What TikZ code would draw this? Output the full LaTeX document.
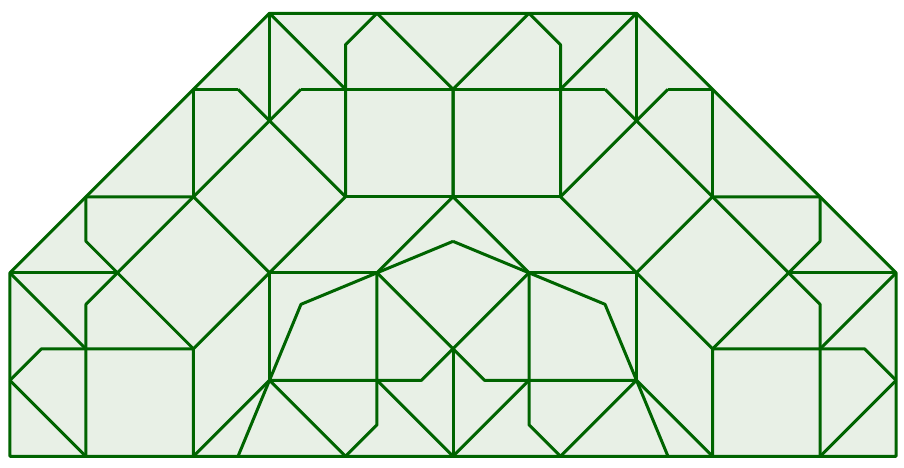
\documentclass[tikz,border=0pt]{standalone}
\definecolor{linegreen}{RGB}{0,100,0}
\definecolor{fillgreen}{RGB}{232,240,230}
\begin{document}
\begin{tikzpicture}[x=1pt,y=-1pt]
\pgfmathsetmacro\s{107.5}
\pgfmathsetmacro\d{\s/sqrt(2)}
\pgfmathsetmacro\e{\s-\d}
% x offsets from the centre line
\pgfmathsetmacro\xA{2*\s+3*\d}
\pgfmathsetmacro\xB{\s+4*\d}
\pgfmathsetmacro\xC{2*\s+2*\d}
\pgfmathsetmacro\xD{\s+3*\d}
\pgfmathsetmacro\xE{\s+2*\d}
\pgfmathsetmacro\xF{2*\s}
\pgfmathsetmacro\xG{\s+\d}
\pgfmathsetmacro\xH{2*\d}
\pgfmathsetmacro\xI{\s}
\pgfmathsetmacro\xJ{\d}
\pgfmathsetmacro\xK{\e}
% y offsets from the top edge (downwards)
\pgfmathsetmacro\yA{0}
\pgfmathsetmacro\yB{\e}
\pgfmathsetmacro\yC{\d}
\pgfmathsetmacro\yD{\s}
\pgfmathsetmacro\yE{\d+\s}
\pgfmathsetmacro\yF{3*\d}
\pgfmathsetmacro\yG{2*\d+\s}
\pgfmathsetmacro\yH{\d+2*\s}
\pgfmathsetmacro\yI{3*\d+\s}
\pgfmathsetmacro\yJ{2*\d+2*\s}
\pgfmathsetmacro\yK{3*\d+2*\s-\e}
\pgfmathsetmacro\yL{3*\d+2*\s}
\tikzset{pat/.style={draw=linegreen, line width=3pt, line join=round}}
\useasboundingbox (0,0) rectangle (904,467);
\begin{scope}[shift={(453,13.3)}]
  \fill[fillgreen] (-\xG,\yA) -- (\xG,\yA) -- (\xA,\yG) -- (\xA,\yL) -- (-\xA,\yL) -- (-\xA,\yG) -- cycle;
  \foreach \m in {1,-1}{
    \begin{scope}[xscale=\m]
      \draw[pat] (-\xG,\yA) -- (-\xG,\yD);
      \draw[pat] (-\xG,\yA) -- (-\xI,\yC);
      \draw[pat] (-\xI,\yE) -- (-\xI,\yB) -- (-\xJ,\yA) -- (0,\yC) -- (0,\yE);
      \draw[pat] (-\xH,\yC) -- (0,\yC);
      \draw[pat] (-\xH,\yC) -- (-\xE,\yE);
      \draw[pat] (-\xF,\yC) -- (-\xI,\yE);
      \draw[pat] (-\xF,\yC) -- (-\xE,\yC) -- (-\xE,\yE);
      \draw[pat] (-\xI,\yE) -- (0,\yE);
      \draw[pat] (-\xE,\yE) -- (-\xC,\yE) -- (-\xC,\yF) -- (-\xE,\yI);
      \draw[pat] (-\xE,\yE) -- (-\xC,\yH) -- (-\xC,\yL);
      \draw[pat] (-\xE,\yE) -- (-\xG,\yG) -- (-\xI,\yE);
      \draw[pat] (-\xG,\yG) -- (-\xE,\yI);
      \draw[pat] (-\xA,\yG) -- (-\xD,\yG);
      \draw[pat] (-\xA,\yG) -- (-\xC,\yI);
      \draw[pat] (-\xA,\yJ) -- (-\xB,\yI) -- (-\xE,\yI) -- (-\xE,\yL);
      \draw[pat] (-\xA,\yJ) -- (-\xC,\yL);
      \draw[pat] (-\xE,\yL) -- (-\xG,\yJ);
      \draw[pat] (-\xG,\yG) -- (-\xG,\yJ);
      \draw[pat] (-\xG,\yG) -- (-\xJ,\yG);
      \draw[pat] (0,\yE) -- (-\xJ,\yG);
      \draw[pat] (-\xF,\yL) -- (-\xH,\yH) -- (0,\yF);
      \draw[pat] (-\xG,\yJ) -- (-\xK,\yJ) -- (\xJ,\yG);
      \draw[pat] (-\xG,\yJ) -- (-\xI,\yL);
      \draw[pat] (-\xJ,\yG) -- (-\xJ,\yK) -- (-\xI,\yL);
      \draw[pat] (-\xJ,\yJ) -- (0,\yL);
      \draw[pat] (0,\yI) -- (0,\yL);
    \end{scope}
  }
  \draw[pat] (-\xG,\yA) -- (\xG,\yA) -- (\xA,\yG) -- (\xA,\yL) -- (-\xA,\yL) -- (-\xA,\yG) -- cycle;
\end{scope}
\end{tikzpicture}
\end{document}
